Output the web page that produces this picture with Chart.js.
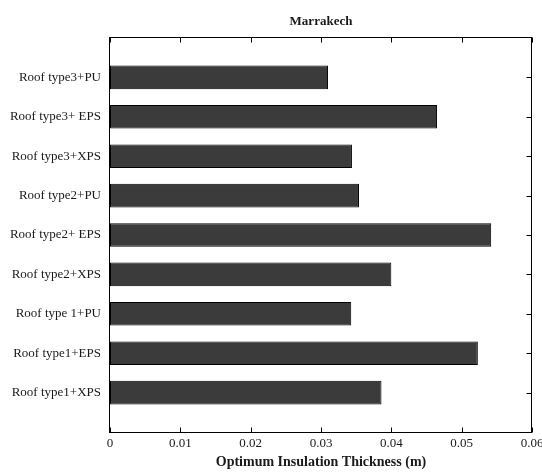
<!DOCTYPE html>
<html>
<head>
<meta charset="utf-8">
<script src="https://cdn.jsdelivr.net/npm/chart.js@4/dist/chart.umd.min.js"></script>
<style>
  html, body { margin: 0; padding: 0; background: #ffffff; }
  #wrap { width: 542px; height: 472px; }
</style>
</head>
<body>
<div id="wrap"><canvas id="chart" width="542" height="472"></canvas></div>
<script>
// Roof/insulation combinations, listed from the bottom of the axis upward
const categories = [
  'Roof type1+XPS',
  'Roof type1+EPS',
  'Roof type 1+PU',
  'Roof type2+XPS',
  'Roof type2+ EPS',
  'Roof type2+PU',
  'Roof type3+XPS',
  'Roof type3+ EPS',
  'Roof type3+PU'
];

// Optimum insulation thickness in metres
const thickness = [0.0386, 0.0523, 0.0343, 0.0400, 0.0542, 0.0354, 0.0344, 0.0465, 0.0310];

// Horizontal axis ticks
const xTicks = [0, 0.01, 0.02, 0.03, 0.04, 0.05, 0.06];

const chartTitle = 'Marrakech';
const xTitle = 'Optimum Insulation Thickness (m)';

const serif = '"Liberation Serif", "Times New Roman", serif';
const ink = '#1a1a1a';

// Each category sits at integer position 1..n on a 0..n+1 axis
const points = categories.map((c, i) => ({ x: thickness[i], y: i + 1 }));

// Boxed axes with inward-pointing tick marks
const boxAxes = {
  id: 'boxAxes',
  beforeDatasetsDraw(chart) {
    const { ctx, chartArea: a, scales: { y } } = chart;
    ctx.save();
    ctx.strokeStyle = '#000';
    ctx.lineWidth = 1;
    ctx.beginPath();
    y.ticks.forEach(t => {
      if (t.value < 1 || t.value > categories.length) return;
      const py = Math.round(y.getPixelForValue(t.value)) + 0.5;
      ctx.moveTo(a.left, py); ctx.lineTo(a.left + 5, py);
    });
    ctx.stroke();
    ctx.restore();
  },
  afterDatasetsDraw(chart) {
    const { ctx, chartArea: a, scales: { x, y } } = chart;
    const L = Math.round(a.left) - 0.5, R = Math.round(a.right) - 0.5;
    const T = Math.round(a.top) - 0.5, B = Math.round(a.bottom) + 0.5;
    ctx.save();
    ctx.strokeStyle = '#000';
    ctx.lineWidth = 1;
    ctx.strokeRect(L, T, R - L, B - T);
    ctx.beginPath();
    x.ticks.forEach(t => {
      const px = Math.round(x.getPixelForValue(t.value)) + 0.5;
      ctx.moveTo(px, B); ctx.lineTo(px, B - 5);
      ctx.moveTo(px, T); ctx.lineTo(px, T + 5);
    });
    y.ticks.forEach(t => {
      if (t.value < 1 || t.value > categories.length) return;
      const py = Math.round(y.getPixelForValue(t.value)) + 0.5;
      ctx.moveTo(R, py); ctx.lineTo(R - 5, py);
    });
    ctx.stroke();
    ctx.restore();
  }
};

new Chart(document.getElementById('chart'), {
  type: 'bar',
  data: {
    datasets: [{
      data: points,
      backgroundColor: '#3b3b3b',
      borderColor: '#000000',
      borderWidth: 1,
      borderSkipped: false,
      barPercentage: 0.6,
      categoryPercentage: 1.0
    }]
  },
  options: {
    indexAxis: 'y',
    responsive: false,
    animation: false,
    devicePixelRatio: 1,
    layout: { padding: { top: 0, right: 10, bottom: 0, left: 0 } },
    plugins: {
      legend: { display: false },
      tooltip: { enabled: false },
      title: {
        display: true,
        text: chartTitle,
        fullSize: false,
        color: ink,
        font: { family: serif, size: 13, weight: 'bold', lineHeight: 1.2 },
        padding: { top: 14, bottom: 8.4 }
      }
    },
    scales: {
      x: {
        type: 'linear',
        min: xTicks[0],
        max: xTicks[xTicks.length - 1],
        afterBuildTicks(scale) {
          scale.ticks = xTicks.map(v => ({ value: v }));
        },
        afterFit(scale) {
          scale.height = 40;
          scale.paddingLeft = 0;
          scale.paddingRight = 0;
        },
        grid: { display: false, drawTicks: false },
        border: { display: false },
        ticks: {
          color: ink,
          padding: 4,
          maxRotation: 0,
          autoSkip: false,
          font: { family: serif, size: 13 },
          callback: v => String(v)
        },
        title: {
          display: true,
          text: xTitle,
          color: ink,
          font: { family: serif, size: 14, weight: 'bold', lineHeight: 1.2 },
          padding: { top: 0, bottom: 1.5 }
        }
      },
      y: {
        type: 'linear',
        offset: false,
        min: 0,
        max: categories.length + 1,
        afterBuildTicks(scale) {
          scale.ticks = categories.map((c, i) => ({ value: i + 1 }));
        },
        afterFit(scale) {
          scale.width = 110;
          scale.paddingTop = 0;
          scale.paddingBottom = 0;
        },
        grid: { display: false, drawTicks: false, offset: false },
        border: { display: false },
        ticks: {
          color: ink,
          padding: 9,
          autoSkip: false,
          font: { family: serif, size: 13 },
          callback: v => categories[v - 1] ?? ''
        }
      }
    }
  },
  plugins: [boxAxes]
});
</script>
</body>
</html>
